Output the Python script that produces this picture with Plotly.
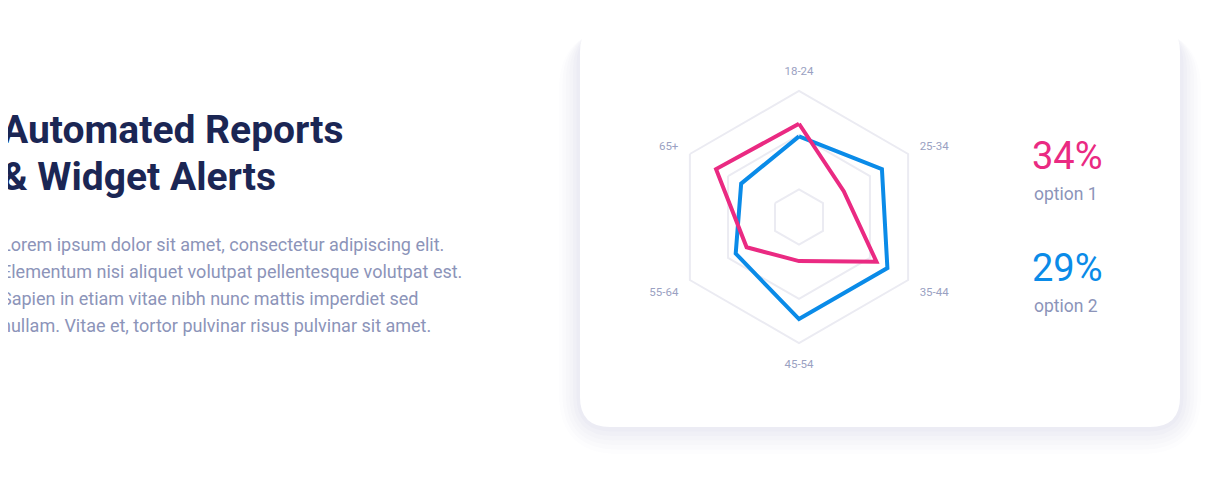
import plotly.graph_objects as go

W, H = 1217, 480
ages = ["18-24", "25-34", "35-44", "45-54", "55-64", "65+"]
option1 = [74, 41, 71, 35, 48, 76]
option2 = [64, 76, 81, 81, 58, 53]
grid_levels = [22, 65, 100]

PINK = "#ea2a82"
BLUE = "#0a8be8"
GREY = "#8c94b9"
NAVY = "#1b2654"

# page puts the plot with a small body offset; compensate
OX, OY = 9, 8

fig = go.Figure()
for vals, col in [(option2, BLUE), (option1, PINK)]:
    fig.add_trace(go.Scatterpolar(
        r=vals + vals[:1], theta=ages + ages[:1], mode="lines",
        line=dict(color=col, width=4), hoverinfo="skip", showlegend=False))


def px(x):
    return (x - OX) / W


def py(y):
    return 1 - (y - OY) / H


def card(x0, y0, x1, y1, r):
    return (f"M {px(x0 + r)} {py(y0)} L {px(x1 - r)} {py(y0)} "
            f"Q {px(x1)} {py(y0)} {px(x1)} {py(y0 + r)} L {px(x1)} {py(y1 - r)} "
            f"Q {px(x1)} {py(y1)} {px(x1 - r)} {py(y1)} L {px(x0 + r)} {py(y1)} "
            f"Q {px(x0)} {py(y1)} {px(x0)} {py(y1 - r)} L {px(x0)} {py(y0 + r)} "
            f"Q {px(x0)} {py(y0)} {px(x0 + r)} {py(y0)} Z")


shapes = []
# soft shadow
for i, a in enumerate([0.012, 0.015, 0.018, 0.02, 0.022, 0.025]):
    g = 30 - i * 5
    shapes.append(dict(type="path", xref="paper", yref="paper", layer="below",
                       path=card(581 - g * 0.7, 22 + 8, 1181 + g * 0.7, 427 + g * 0.9, 30 + g),
                       fillcolor=f"rgba(80,90,150,{a})", line=dict(width=0)))
shapes.append(dict(type="path", xref="paper", yref="paper", layer="below",
                   path=card(581, 22, 1181, 427, 30), fillcolor="white", line=dict(width=0)))

ann = [
    dict(x=px(1), y=py(130), text="<b>Automated Reports</b>", font=dict(size=39, color=NAVY)),
    dict(x=px(1), y=py(177), text="<b>& Widget Alerts</b>", font=dict(size=39, color=NAVY)),
]
para = ["Lorem ipsum dolor sit amet, consectetur adipiscing elit.",
        "Elementum nisi aliquet volutpat pellentesque volutpat est.",
        "Sapien in etiam vitae nibh nunc mattis imperdiet sed",
        "nullam. Vitae et, tortor pulvinar risus pulvinar sit amet."]
for i, t in enumerate(para):
    ann.append(dict(x=px(0), y=py(244 + 27 * i), text=t, font=dict(size=18, color=GREY)))
ann += [
    dict(x=px(1031), y=py(156), text="34%", font=dict(size=38, color=PINK)),
    dict(x=px(1033), y=py(194), text="option 1", font=dict(size=17.5, color=GREY)),
    dict(x=px(1031), y=py(268), text="29%", font=dict(size=38, color=BLUE)),
    dict(x=px(1033), y=py(306), text="option 2", font=dict(size=17.5, color=GREY)),
]
for a in ann:
    a.update(xref="paper", yref="paper", xanchor="left", yanchor="middle", showarrow=False)

fig.update_layout(
    width=W, height=H, margin=dict(l=0, r=0, t=0, b=0),
    paper_bgcolor="white", plot_bgcolor="white",
    font=dict(family="Roboto"),
    shapes=shapes, annotations=ann,
    polar=dict(
        domain=dict(x=[px(674), px(926)], y=[py(343), py(91)]),
        bgcolor="rgba(0,0,0,0)", gridshape="linear",
        radialaxis=dict(range=[0, 100], tickvals=grid_levels, showticklabels=False,
                        ticks="", showline=False, gridcolor="#ebebf2", gridwidth=2),
        angularaxis=dict(rotation=90, direction="clockwise", showgrid=False,
                         showline=True, linecolor="#ebebf2", linewidth=2,
                         ticks="outside", ticklen=10, tickcolor="rgba(0,0,0,0)",
                         tickfont=dict(size=11.5, color="#9aa1c2")),
    ),
)

fig.write_html("out.html")
